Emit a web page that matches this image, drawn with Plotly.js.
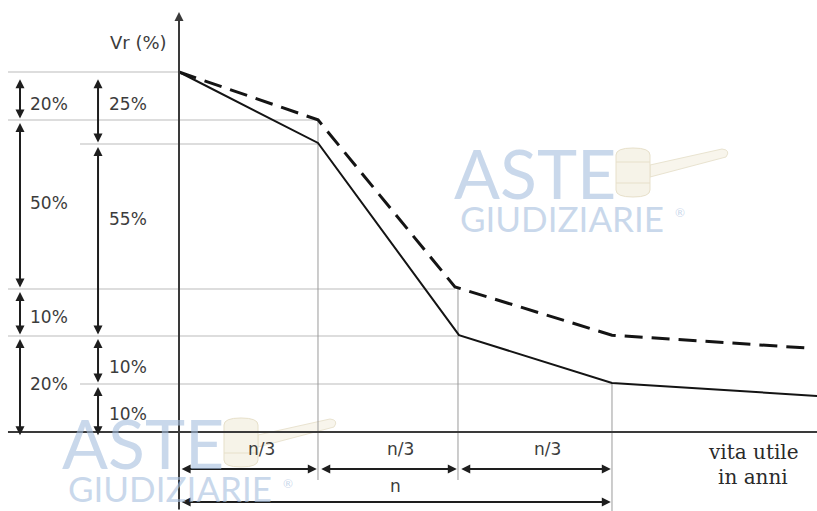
<!DOCTYPE html>
<html><head><meta charset="utf-8">
<script src="https://cdn.plot.ly/plotly-3.0.1.min.js"></script>
<style>html,body{margin:0;padding:0;background:#fff}#chart{width:817px;height:511px}</style>
</head><body><div id="chart"></div>
<script>
// ---- data (x in units of n/3, y in drawn-height units, 100 = start value) ----
const periodBounds = [0, 0.963, 1.933, 3];
const periodLabels = ['n/3', 'n/3', 'n/3'];
const totalLabel = 'n';

const solidX = [0, 0.963, 1.94, 3, 4.43];
const solidY = [100, 80.3, 26.9, 13.6, 10.0];
const dashedX = [0, 0.963, 1.912, 3, 4.36];
const dashedY = [100, 86.7, 40.3, 26.9, 23.3];

const leftLevels = [100, 86.67, 39.72, 26.67, 0];
const leftLabels = ['20%', '50%', '10%', '20%'];
const rightLevels = [100, 80, 26.67, 13.33, 0];
const rightLabels = ['25%', '55%', '10%', '10%'];

const yTitle = 'Vr (%)';
const xTitle = ['vita utile', 'in anni'];

// ---- geometry helpers (layout only) ----
const XR = [-1.2402, 4.4204], YR = [-21.944, 120];
const W = 817, H = 511;
const px2paperX = p => p / W, px2paperY = p => 1 - p / H;

const FONT = 'DejaVu Sans, Arial, sans-serif';
const shapes = [], annotations = [];

// gridlines at dimension levels
const allLevels = Array.from(new Set(leftLevels.concat(rightLevels))).filter(v => v > 0);
const corners = solidX.map((x, i) => [x, solidY[i]]).concat(dashedX.map((x, i) => [x, dashedY[i]]));
allLevels.forEach(lv => {
  const hits = corners.filter(c => Math.abs(c[1] - lv) < 1.2).map(c => c[0]);
  const xEnd = hits.length ? Math.min.apply(null, hits) : 0;
  const xStart = leftLevels.indexOf(lv) >= 0 ? -1.185 : -0.686;
  shapes.push({type: 'line', xref: 'x', yref: 'y', x0: xStart, x1: xEnd, y0: lv, y1: lv,
    line: {color: '#d2d2d2', width: 1.5}, layer: 'below'});
});

// drop lines
const dropTops = [dashedY[1], dashedY[2], solidY[3]];
periodBounds.slice(1).forEach((x, i) => {
  shapes.push({type: 'line', xref: 'x', yref: 'y', x0: x, x1: x, y0: dropTops[i],
    y1: i === periodBounds.length - 2 ? YR[0] : -13.33, line: {color: '#9a9a9a', width: 1}, layer: 'below'});
});

// x axis line
shapes.push({type: 'line', xref: 'x', yref: 'y', x0: -1.185, x1: XR[1], y0: 0, y1: 0, line: {color: '#3a3a3a', width: 2}});

function dimArrow(x0, y0, x1, y1) {
  return {x: x1, y: y1, ax: x0, ay: y0, xref: 'x', yref: 'y', axref: 'x', ayref: 'y', text: '',
    showarrow: true, arrowhead: 2, startarrowhead: 2, arrowside: 'end+start', arrowsize: 0.9,
    startarrowsize: 0.9, arrowwidth: 2, arrowcolor: '#1e1e1e', standoff: 0, startstandoff: 0};
}
function label(x, y, t, opts) {
  return Object.assign({x: x, y: y, xref: 'x', yref: 'y', text: t, showarrow: false,
    xanchor: 'center', yanchor: 'middle',
    font: {family: FONT, size: 17, color: '#3c3c3c'}}, opts || {});
}

// y axis with arrow
annotations.push({x: 0, y: 116.7, ax: 0, ay: YR[0], xref: 'x', yref: 'y', axref: 'x', ayref: 'y', text: '',
  showarrow: true, arrowhead: 2, arrowsize: 0.9, arrowwidth: 2, arrowcolor: '#3a3a3a', standoff: 0});
annotations.push(label(-0.284, 108.3, yTitle, {font: {family: FONT, size: 18, color: '#3c3c3c'}}));

// vertical dimension columns
const leftYShift = [-8, 2, -4, 0];
const rightYShift = [4, 21, -7, -6];
function column(levels, labels, xCol, xLab, shifts) {
  for (let i = 0; i < labels.length; i++) {
    const top = i === 0 ? levels[i] - 1.6 : levels[i] - 0.4;
    const bot = i === labels.length - 1 ? levels[i + 1] - 0.9 : levels[i + 1] + 0.4;
    annotations.push(dimArrow(xCol, top, xCol, bot));
    annotations.push(label(xLab, (levels[i] + levels[i + 1]) / 2, labels[i], {yshift: shifts[i]}));
  }
}
column(leftLevels, leftLabels, -1.1016, -0.9007, leftYShift);
column(rightLevels, rightLabels, -0.561, -0.3534, rightYShift);

// horizontal dimensions
for (let i = 0; i < periodLabels.length; i++) {
  const a = periodBounds[i] + (i === 0 ? 0.008 : 0.012);
  const b = periodBounds[i + 1] - 0.008;
  annotations.push(dimArrow(a, -10.28, b, -10.28));
  annotations.push(label((periodBounds[i] + periodBounds[i + 1]) / 2, -4.8, periodLabels[i], {xshift: 13}));
}
annotations.push(dimArrow(0.008, -19.44, periodBounds[periodBounds.length - 1] - 0.008, -19.44));
annotations.push(label(periodBounds[periodBounds.length - 1] / 2, -15.1, totalLabel));

// x axis title (serif)
annotations.push(label(3.98, -5.6, xTitle[0], {font: {family: 'DejaVu Serif, Liberation Serif, serif', size: 20, color: '#2a2a2a'}}));
annotations.push(label(3.98, -12.6, xTitle[1], {font: {family: 'DejaVu Serif, Liberation Serif, serif', size: 20, color: '#2a2a2a'}}));

// ---- watermark (decoration) ----
const WM = 'rgba(165,190,222,0.6)';
function wmText(x, y, t, size, weight) {
  annotations.push({xref: 'paper', yref: 'paper', x: px2paperX(x), y: px2paperY(y), text: t,
    xanchor: 'center', yanchor: 'middle', showarrow: false,
    font: {family: 'Lato, DejaVu Sans, sans-serif', size: size, color: WM, weight: weight}});
}
function watermark(dx, dy) {
  const P = (x, y) => px2paperX(x + dx).toFixed(5) + ',' + px2paperY(y + dy).toFixed(5);
  shapes.push({type: 'path', xref: 'paper', yref: 'paper', layer: 'below',
    path: 'M' + P(650, 165) + ' L' + P(722, 149) + ' Q' + P(731, 150) + ' ' + P(726, 157) + ' L' + P(650, 177) + ' Z',
    fillcolor: '#f8f5ec', line: {color: '#e9e3d0', width: 1}});
  shapes.push({type: 'path', xref: 'paper', yref: 'paper', layer: 'below',
    path: 'M' + P(616, 155) + ' Q' + P(616, 148) + ' ' + P(633, 148) + ' Q' + P(650, 148) + ' ' + P(650, 155) +
      ' L' + P(650, 190) + ' Q' + P(650, 197) + ' ' + P(633, 197) + ' Q' + P(616, 197) + ' ' + P(616, 190) + ' Z',
    fillcolor: '#f6f3e8', line: {color: '#e7e0ca', width: 1}});
  shapes.push({type: 'path', xref: 'paper', yref: 'paper', layer: 'below',
    path: 'M' + P(616, 162) + ' L' + P(650, 162) + ' M' + P(616, 183) + ' L' + P(650, 183),
    line: {color: '#e7e0ca', width: 1}});
  wmText(535 + dx, 172 + dy, 'ASTE', 68, 400);
  wmText(562 + dx, 218 + dy, 'GIUDIZIARIE', 35, 400);
  wmText(680 + dx, 213 + dy, '®', 12, 400);
}
watermark(0, 0);
watermark(-392, 270);

const traces = [
  {x: solidX, y: solidY, mode: 'lines', line: {color: '#141414', width: 2}, hoverinfo: 'skip', showlegend: false},
  {x: dashedX, y: dashedY, mode: 'lines', line: {color: '#141414', width: 3, dash: '18px,9px'}, hoverinfo: 'skip', showlegend: false}
];

const layout = {
  width: W, height: H, autosize: false, margin: {l: 0, r: 0, t: 0, b: 0, pad: 0},
  paper_bgcolor: '#fff', plot_bgcolor: '#fff', showlegend: false,
  xaxis: {range: XR, visible: false, fixedrange: true},
  yaxis: {range: YR, visible: false, fixedrange: true},
  shapes: shapes, annotations: annotations
};
Plotly.newPlot('chart', traces, layout, {staticPlot: true, displayModeBar: false});
</script></body></html>
